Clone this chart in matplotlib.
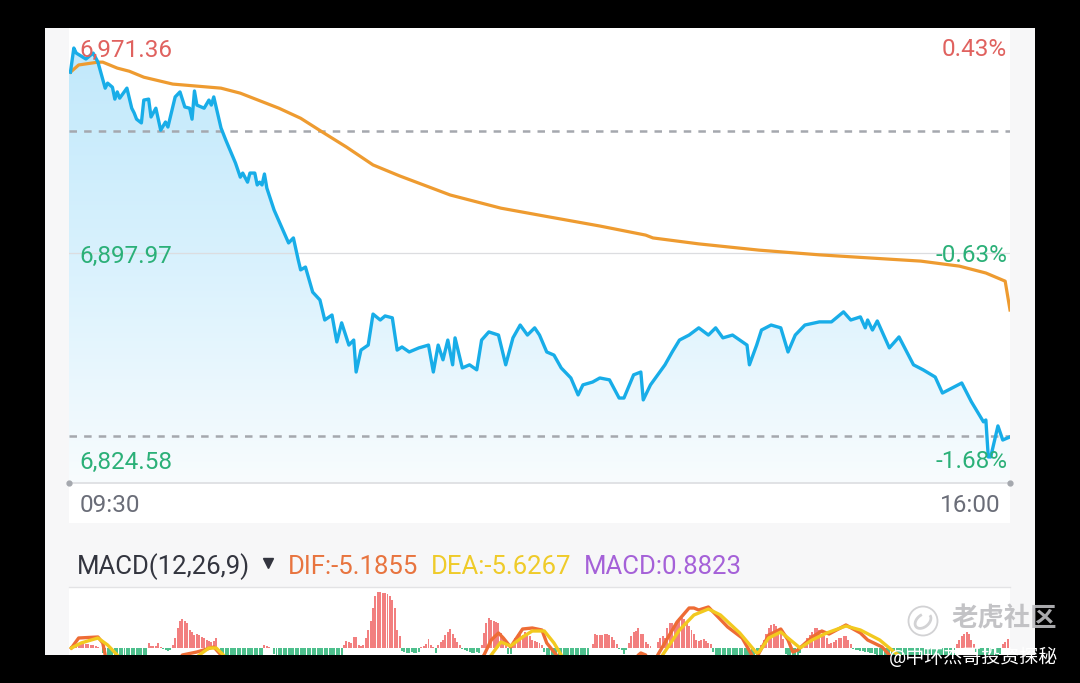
import matplotlib
matplotlib.use('Agg')
import matplotlib.pyplot as plt
from matplotlib.colors import LinearSegmentedColormap
from matplotlib.patches import Rectangle, Circle, Arc
import numpy as np

plt.rcParams['font.family'] = ['Roboto', 'Noto Sans CJK SC', 'DejaVu Sans']

# Price line, minutes after 09:30
price_min = [0.6,2,3,7,10,12,15,16,18,19,20,21,24,26,27,28,30,31,33,34,36,38,40,41,44,46,48,50,51,52,53,56,58,59,60,63,65,69,71,72,74,75,77,78,79,80,81,82,85,89,91,93,95,96,98,101,104,106,109,111,113,116,118,119,121,124,126,129,131,134,136,138,141,145,149,151,153,155,157,159,160,163,166,169,171,174,178,181,184,187,190,193,195,198,201,204,208,211,213,217,220,224,228,230,234,237,238,241,244,247,250,253,257,261,265,268,271,275,278,281,282,285,287,291,295,298,301,305,311,316,321,324,328,330,331,333,335,340,344,350,354,359,362,370,374,379,380,381,382,385,387,390]
price = [6955.7,6963.4,6961.8,6959.9,6961.8,6958.9,6950.6,6952.2,6950.9,6947.1,6949.4,6947.4,6950.6,6944.2,6942.7,6940.7,6939.5,6946.8,6947.1,6941.4,6944.2,6937.2,6939.8,6938.2,6947.8,6949.4,6944.6,6944.2,6940.7,6949.7,6945.2,6944.2,6946.8,6945.2,6947.8,6937.9,6934.0,6926.7,6922.2,6923.5,6920.6,6923.5,6923.5,6919.7,6920.6,6919.7,6923.2,6918.7,6911.7,6904.7,6901.2,6902.8,6895.8,6892.6,6893.5,6885.5,6883.0,6876.6,6878.2,6869.6,6875.7,6868.6,6870.2,6860.0,6867.0,6868.6,6878.5,6876.6,6877.9,6877.3,6867.0,6868.0,6866.4,6867.7,6868.6,6860.0,6868.6,6863.9,6870.2,6862.3,6870.9,6861.3,6862.3,6860.7,6870.2,6872.8,6871.8,6862.3,6870.9,6875.0,6871.8,6874.1,6871.8,6866.4,6865.4,6861.3,6858.1,6852.7,6855.9,6856.8,6858.1,6857.5,6851.7,6851.7,6859.1,6860.0,6851.1,6855.9,6859.1,6862.3,6866.4,6870.2,6871.8,6874.1,6871.8,6874.1,6870.9,6871.8,6870.2,6868.6,6862.3,6868.6,6873.4,6875.0,6874.1,6866.4,6871.8,6875.0,6876.0,6876.0,6879.2,6876.6,6877.6,6874.1,6876.6,6873.4,6876.3,6867.7,6871.2,6862.3,6860.7,6858.4,6853.3,6856.5,6850.5,6844.1,6844.7,6832.9,6832.9,6842.8,6838.3,6839.3]

avg_min = [0.6,4,12,14,20,25,31,43,63,71,87,96,105,115,126,137,158,179,199,220,239,242,261,286,311,332,353,369,380,388,390]
avg_price = [6955.7,6958.0,6958.9,6958.9,6957.0,6956.0,6954.1,6951.9,6950.6,6949.0,6944.2,6941.0,6936.6,6931.8,6926.1,6922.6,6916.5,6912.3,6909.5,6906.6,6903.7,6902.8,6900.9,6898.9,6897.4,6896.4,6895.4,6893.8,6891.6,6889.0,6879.8]

y_low = 6824.58
y_mid = 6897.97
y_top = 6969.8
dash_levels = [6936.9, 6839.6]

# MACD histogram, runs of bars: first minute, then one value a minute
hist_start = [1,14,33,39,43,63,81,85,114,138,146,152,153,163,171,182,184,197,217,228,232,244,267,287,297,304,325,368,376,387]
hist_runs = [
    [0.2,0.3,0.4,0.4,0.4,0.4,0.4,0.4,0.3,0.3,0.2,0.1],
    [-0.5,-1.0,-1.2,-1.2,-1.2,-1.2,-1.2,-1.2,-1.2,-1.2,-1.2,-1.2,-1.2,-1.2,-1.2,-1.2,-1.2,-1.2,-1.0],
    [0.5,0.2,0.2,0.2,0.5,0.1],
    [-0.1,-0.2,-0.3,-0.2],
    [0.3,1.0,2.0,2.7,2.9,2.7,2.5,1.8,1.6,1.3,1.4,1.3,1.1,1.0,0.8,0.7,0.6,0.7,1.0],
    [-0.5,-1.0,-1.2,-1.2,-1.2,-1.2,-1.2,-1.2,-1.2,-1.2,-1.2,-1.2,-1.2,-1.2,-1.2,-1.2,-1.0,-0.7],
    [0.3,0.2,0.1],
    [-0.6,-0.9,-1.2,-1.2,-1.2,-1.2,-1.2,-1.2,-1.2,-1.2,-1.2,-1.2,-1.2,-1.2,-1.2,-1.2,-1.2,-1.2,-1.2,-1.2,-1.2,-1.2,-1.2,-1.2,-1.2,-1.2,-1.2,-1.0,-1.0],
    [0.3,0.7,0.6,0.5,1.1,1.1,0.3,0.2,0.3,1.0,1.8,2.7,4.0,5.2,5.6,5.6,5.5,5.5,5.4,5.2,4.8,4.0,1.8,1.2],
    [-0.3,-0.4,-0.5,-0.5,-0.4,-0.5,-0.5,-0.4],
    [0.1,0.2,0.4,0.9,0.3,0.1],
    [-0.5],
    [0.3,0.6,0.8,1.3,1.6,1.9,1.4,1.0,0.6,0.3],
    [-0.1,-0.2,-0.3,-0.4,-0.5,-0.5,-0.4,-0.5],
    [0.3,1.5,2.5,3.0,2.8,2.7,2.6,2.5,1.5,1.0,0.5],
    [-0.6,-0.6],
    [0.5,1.0,1.4,1.5,1.3,1.6,1.4,1.2,0.8,0.7,0.6,0.5,0.3],
    [-0.4,-0.7,-0.9,-1.2,-1.2,-1.2,-1.2,-1.2,-1.2,-1.2,-1.2,-1.2,-1.2,-1.2,-1.2,-1.2,-1.2,-1.0,-0.8],
    [0.4,1.4,1.3,1.3,1.3,1.4,1.4,1.3,1.1,0.8,0.4],
    [-0.1,-0.2,-0.6,-0.2],
    [0.5,1.2,1.6,1.7,2.0,1.4,1.4,0.6,0.4,0.2],
    [0.6,1.0,1.2,1.0,2.0,2.5,2.5,2.4,2.5,3.0,3.0,2.9,2.5,2.2,1.8,1.4,0.8,0.7,0.8,0.9,0.7,0.5,0.4],
    [-0.4,-0.7,-0.9,-1.2,-1.2,-1.2,-1.2,-1.2,-1.2,-1.2,-1.2,-1.2,-1.2,-1.2,-1.2,-1.2,-1.2,-1.2,-1.0,-0.6],
    [0.3,0.8,1.4,2.0,2.3,2.4,2.2,1.8,1.4,0.9],
    [-0.6,-1.0,-1.2,-1.2,-1.2,-1.0,-0.5],
    [0.2,0.6,1.0,1.3,1.6,2.0,2.0,1.8,1.4,1.2,1.0,0.4,0.5,0.6,0.8,1.0,1.0,1.2,1.2,0.8,0.4],
    [-0.1,-0.2,-0.2,-0.3,-0.3,-0.4,-0.4,-0.5,-0.5,-0.6,-0.7,-0.8,-0.9,-1.0,-1.1,-1.2,-1.2,-1.2,-1.2,-1.2,-1.2,-1.2,-1.2,-1.2,-1.2,-1.2,-1.2,-1.2,-1.2,-1.2,-1.2,-1.2,-1.2,-1.2,-1.2,-1.2,-1.2,-1.2,-1.2,-1.1,-1.0,-0.9,-0.7],
    [0.4,0.8,1.2,1.4,1.6,1.4,0.8,0.4],
    [-0.4,-0.8,-1.2,-1.2,-1.2,-1.2,-1.2,-1.2,-1.2,-1.0,-0.6],
    [0.4,0.6,0.9],
]

dif_min = [1,4,12,14,15,16,42,47,53,60,63,67,166,172,175,178,180,183,188,192,196,198,202,206,230,236,237,239,241,244,252,257,259,261,265,269,273,279,283,284,286,290,295,298,300,302,308,312,315,322,328,331,337,340,344,389]
dif = [0.0,1.0,1.1,0.5,-0.7,-2.2,-2.5,-0.7,-0.4,0.1,-0.7,-2.5,-2.5,-0.7,0.8,1.5,1.0,0.1,1.9,2.0,1.8,0.5,-0.7,-2.5,-2.5,-0.7,-0.5,-0.7,-2.5,-0.7,2.6,4.0,4.0,3.8,4.1,3.1,2.1,1.0,-0.7,-1.5,-0.5,1.3,1.9,0.8,-0.4,-0.2,1.1,1.7,1.4,2.3,1.5,0.8,0.1,-0.7,-2.5,-2.5]
dea_min = [1,5,12,16,20,25,45,54,58,61,64,68,170,175,179,183,188,192,197,201,204,208,240,246,253,259,265,270,278,285,286,290,295,299,303,308,314,322,328,336,342,345,352,389]
dea = [0.0,0.5,1.0,0.3,-0.7,-2.5,-2.5,-0.7,0.0,0.0,-0.7,-2.5,-2.5,-0.7,0.6,0.2,1.1,1.7,1.7,0.5,-0.7,-2.5,-2.5,-0.7,1.8,3.3,3.9,3.3,1.5,-0.5,-0.4,1.0,1.6,0.8,0.0,0.8,1.5,2.2,1.8,0.8,-0.4,-0.9,-2.5,-2.5]

W, H = 1080, 683


def box(x0, y0, x1, y1):
    # pixel box (top-left origin) to figure fractions
    return [x0 / W, 1 - y1 / H, (x1 - x0) / W, (y1 - y0) / H]


fig = plt.figure(figsize=(W / 100, H / 100), dpi=100, facecolor='black')

# background cards
bg = fig.add_axes([0, 0, 1, 1], zorder=0)
bg.set_xlim(0, W)
bg.set_ylim(H, 0)
bg.axis('off')
bg.add_patch(Rectangle((45, 28), 990, 627, color='#f7f7f8', lw=0))
bg.add_patch(Rectangle((69, 28), 941, 495, color='white', lw=0))
bg.add_patch(Rectangle((69, 587), 941, 68, color='white', lw=0))
bg.plot([69, 1010], [586.5, 586.5], color='#e3e3e5', lw=1)

# price panel
ax = fig.add_axes(box(69, 28, 1010, 483), zorder=1)
ax.patch.set_alpha(0)
ax.axis('off')
ax.set_xlim(0, 390)
ax.set_ylim(y_low, y_top)

ax.axhline(y_mid, color='#dcdde0', lw=0.9)
cmap = LinearSegmentedColormap.from_list('fade', ['#f8fcfe', '#d8f1fd', '#bfe8fb'])
grad = np.linspace(1, 0, 256).reshape(-1, 1)
im = ax.imshow(grad, extent=[0, 390, y_low, y_top], aspect='auto', cmap=cmap, vmin=0, vmax=1, zorder=1)
poly = ax.fill_between([0] + price_min, y_low, [price[0]] + price, color='none', lw=0)
im.set_clip_path(poly.get_paths()[0], transform=ax.transData)
for lv in dash_levels:
    ax.axhline(lv, color='#a5a8ae', lw=1.8, ls=(0, (3.0, 2.85)), zorder=2)
ax.plot(avg_min, avg_price, color='#ee9b30', lw=2.3, zorder=3, solid_joinstyle='round')
ax.plot(price_min, price, color='#18ade8', lw=2.4, zorder=4, solid_joinstyle='round')
ax.set_xlim(0, 390)
ax.set_ylim(y_low, y_top)

# MACD panel
ax2 = fig.add_axes(box(69, 587, 1010, 655), zorder=1)
ax2.patch.set_alpha(0)
ax2.axis('off')
ax2.set_xlim(0, 390)
ax2.set_ylim(-0.7, 6.1)
for start, run in zip(hist_start, hist_runs):
    mins = np.arange(start, start + len(run))
    cols = ['#f27f7f' if v > 0 else '#4dbf8c' for v in run]
    ax2.bar(mins, run, width=0.82, color=cols, lw=0)
ax2.plot(dif_min, dif, color='#ee6c35', lw=2.4)
ax2.plot(dea_min, dea, color='#f2c91f', lw=2.4)

# all text sits on a pixel overlay
ov = fig.add_axes([0, 0, 1, 1], zorder=3)
ov.patch.set_alpha(0)
ov.axis('off')
ov.set_xlim(0, W)
ov.set_ylim(H, 0)

RED = '#e0625f'
GREEN = '#2bb078'
fs = 17.5
ov.text(79, 50, '6,971.36', color=RED, fontsize=fs, va='center')
ov.text(79, 256, '6,897.97', color=GREEN, fontsize=fs, va='center')
ov.text(79, 462, '6,824.58', color=GREEN, fontsize=fs, va='center')
ov.text(1007, 50, '0.43%', color=RED, fontsize=fs, va='center', ha='right')
ov.text(1007, 256, '-0.63%', color=GREEN, fontsize=fs, va='center', ha='right')
ov.text(1007, 462, '-1.68%', color=GREEN, fontsize=fs, va='center', ha='right')
ov.text(80, 506, '09:30', color='#6a6d78', fontsize=fs, va='center')
ov.text(1001, 506, '16:00', color='#6a6d78', fontsize=fs, va='center', ha='right')

ov.plot([69, 1010], [483, 483], color='#dcdde0', lw=1.2)
ov.plot([69, 1010], [483, 483], ls='none', marker='o', ms=3.5, color='#a5a8ae')

ov.text(77, 567, 'MACD(12,26,9)', color='#33353f', fontsize=18.5, va='center')
ov.plot([268], [563], marker='v', ms=7, color='#33353f', ls='none')
ov.text(288, 567, 'DIF:-5.1855', color='#e8743f', fontsize=18.5, va='center')
ov.text(431, 567, 'DEA:-5.6267', color='#efcb2a', fontsize=18.5, va='center')
ov.text(584, 567, 'MACD:0.8823', color='#a561d8', fontsize=18.5, va='center')

# watermark
ov.add_patch(Circle((923, 621), 14.5, fill=False, ec='#d2d2d4', lw=1.3))
ov.add_patch(Arc((923, 621), 18, 12, angle=-40, theta1=0, theta2=300, ec='#d2d2d4', lw=2))
ov.text(952, 619, '老虎社区', color='#bdbdc0', fontsize=19, va='center', alpha=0.9, fontweight='bold')
ov.text(889, 657, '@中环杰哥投资探秘', color='white', fontsize=13.7, va='center')

fig.savefig('out.png', dpi=100, facecolor='black')
